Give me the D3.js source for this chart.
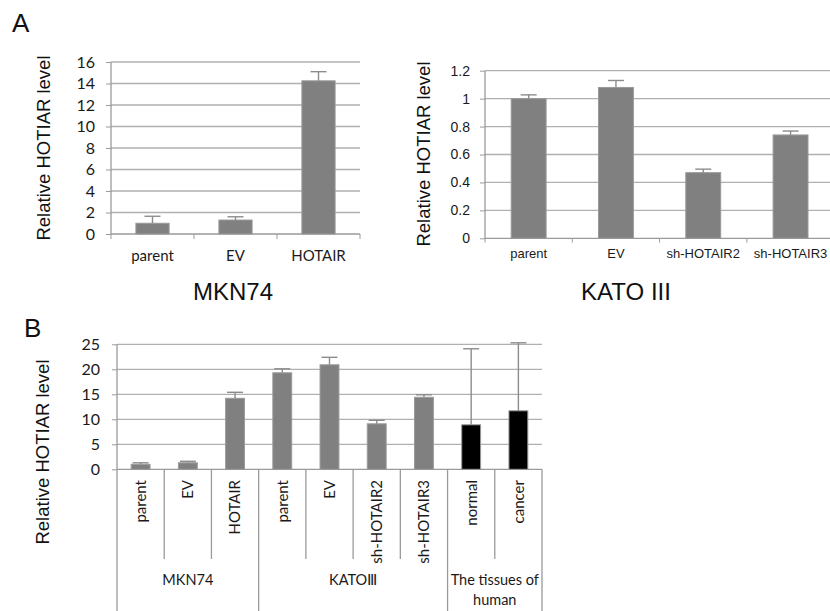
<!DOCTYPE html>
<html><head><meta charset="utf-8">
<script src="https://cdn.jsdelivr.net/npm/d3@7"></script>
<style>body{margin:0;background:#fff}svg{display:block}</style>
</head><body><svg id="c" width="830" height="611"></svg>
<script>
// ---- data ----
const catsA1 = ["parent", "EV", "HOTAIR"];
const valsA1 = [1.0, 1.3, 14.25];
const errA1 = [0.65, 0.3, 0.85];
const ticksA1 = [0, 2, 4, 6, 8, 10, 12, 14, 16];

const catsA2 = ["parent", "EV", "sh-HOTAIR2", "sh-HOTAIR3"];
const valsA2 = [1.0, 1.08, 0.47, 0.74];
const errA2 = [0.027, 0.05, 0.025, 0.028];
const ticksA2 = [0, 0.2, 0.4, 0.6, 0.8, 1, 1.2];

const catsB = ["parent", "EV", "HOTAIR", "parent", "EV", "sh-HOTAIR2", "sh-HOTAIR3", "normal", "cancer"];
const valsB = [1.0, 1.3, 14.2, 19.3, 20.9, 9.1, 14.4, 8.9, 11.7];
const errB = [0.3, 0.3, 1.2, 0.8, 1.5, 0.7, 0.5, 15.2, 13.6];
const ticksB = [0, 5, 10, 15, 20, 25];
const groupNamesB = [["MKN74"], ["KATOⅢ"], ["The tissues of", "human"]];
const groupSizesB = [3, 4, 2];

const yTitle = "Relative HOTIAR level";

// ---- styles ----
const GRID = "#b0b0b0", AXIS = "#9a9a9a", BAR = "#808080", ERR = "#8c8c8c";
const LATO = "Lato, 'Open Sans', sans-serif";
const arial = "'Liberation Sans', Arial, sans-serif";
const svg = d3.select("#c");
svg.append("rect").attr("width", 830).attr("height", 611).attr("fill", "#fff");

function panel(o) {
  const g = svg.append("g");
  const x = d3.scaleBand().domain(o.cats.map((d, i) => i)).range(o.xr).paddingInner(0).paddingOuter(0);
  const y = d3.scaleLinear().domain([0, o.ymax]).range(o.yr);
  g.selectAll(".grid").data(o.ticks.filter(t => t > 0)).join("line")
    .attr("x1", o.xr[0]).attr("x2", o.xr[1])
    .attr("y1", d => y(d)).attr("y2", d => y(d))
    .attr("stroke", GRID).attr("stroke-width", 1.3);
  const ay = g.append("g").attr("transform", `translate(${o.xr[0]},0)`)
    .call(d3.axisLeft(y).tickValues(o.ticks).tickSize(5).tickPadding(o.tickPad).tickFormat(d => d));
  ay.select(".domain").attr("stroke", AXIS).attr("stroke-width", 1.3).attr("d", `M-0,${o.yr[1]}V${o.ybot || o.yr[0]}`);
  ay.selectAll(".tick line").attr("stroke", AXIS);
  ay.selectAll(".tick text").attr("font-family", o.tickFont).attr("font-size", o.tickSize).attr("fill", "#1a1a1a");
  g.append("line").attr("x1", o.xr[0]).attr("x2", o.xr[1]).attr("y1", o.yr[0]).attr("y2", o.yr[0])
    .attr("stroke", AXIS).attr("stroke-width", 1.3);
  const bw = x.bandwidth() * 0.4;
  g.selectAll(".bar").data(o.vals).join("rect")
    .attr("x", (d, i) => x(i) + x.bandwidth() / 2 - bw / 2)
    .attr("width", bw)
    .attr("y", d => y(d)).attr("height", d => y(0) - y(d))
    .attr("fill", (d, i) => o.color ? o.color(i) : BAR)
    .attr("stroke", "#9a9a9a").attr("stroke-width", 1);
  const eg = g.selectAll(".err").data(o.vals).join("g");
  eg.append("line")
    .attr("x1", (d, i) => x(i) + x.bandwidth() / 2).attr("x2", (d, i) => x(i) + x.bandwidth() / 2)
    .attr("y1", d => y(d)).attr("y2", (d, i) => y(d + o.errs[i]))
    .attr("stroke", ERR).attr("stroke-width", 1.4);
  eg.append("line")
    .attr("x1", (d, i) => x(i) + x.bandwidth() / 2 - 8).attr("x2", (d, i) => x(i) + x.bandwidth() / 2 + 8)
    .attr("y1", (d, i) => y(d + o.errs[i])).attr("y2", (d, i) => y(d + o.errs[i]))
    .attr("stroke", ERR).attr("stroke-width", 1.4);
  return { g, x, y };
}

// ---- Panel A1 ----
const p1 = panel({ cats: catsA1, vals: valsA1, errs: errA1, ticks: ticksA1, ymax: 16,
  xr: [111, 360], yr: [234, 62], tickPad: 11, tickFont: LATO, tickSize: 16 });
p1.g.selectAll(".xt").data(d3.range(catsA1.length + 1)).join("line")
  .attr("x1", i => p1.x.range()[0] + i * p1.x.step()).attr("x2", i => p1.x.range()[0] + i * p1.x.step())
  .attr("y1", 234).attr("y2", 239).attr("stroke", AXIS);
p1.g.selectAll(".xl").data(catsA1).join("text")
  .attr("x", (d, i) => p1.x(i) + p1.x.bandwidth() / 2).attr("y", 261)
  .attr("text-anchor", "middle").attr("font-family", LATO).attr("font-size", 15)
  .attr("fill", "#1a1a1a").text(d => d);

// ---- Panel A2 ----
const p2 = panel({ cats: catsA2, vals: valsA2, errs: errA2, ticks: ticksA2, ymax: 1.2,
  xr: [485, 834.2], yr: [238.3, 70.7], tickPad: 10, tickFont: arial, tickSize: 14 });
p2.g.selectAll(".xt").data(d3.range(catsA2.length + 1)).join("line")
  .attr("x1", i => p2.x.range()[0] + i * p2.x.step()).attr("x2", i => p2.x.range()[0] + i * p2.x.step())
  .attr("y1", 238.3).attr("y2", 242.5).attr("stroke", AXIS);
p2.g.selectAll(".xl").data(catsA2).join("text")
  .attr("x", (d, i) => p2.x(i) + p2.x.bandwidth() / 2).attr("y", 258)
  .attr("text-anchor", "middle").attr("font-family", arial).attr("font-size", 13)
  .attr("fill", "#1a1a1a").text(d => d);

// ---- Panel B ----
const groupIdx = [];
groupSizesB.forEach((n, gi) => { for (let k = 0; k < n; k++) groupIdx.push(gi); });
const pB = panel({ cats: catsB, vals: valsB, errs: errB, ticks: ticksB, ymax: 25,
  xr: [117, 542], yr: [469.3, 344.3], ybot: 611, tickPad: 12, tickFont: LATO, tickSize: 16,
  color: i => groupIdx[i] === 2 ? "#000" : BAR });
const starts = [0];
groupSizesB.forEach(n => starts.push(starts[starts.length - 1] + n));
pB.g.selectAll(".sep").data(d3.range(1, catsB.length + 1)).join("line")
  .attr("x1", i => pB.x.range()[0] + i * pB.x.step()).attr("x2", i => pB.x.range()[0] + i * pB.x.step())
  .attr("y1", 469.3).attr("y2", i => starts.includes(i) ? 611 : 559)
  .attr("stroke", AXIS).attr("stroke-width", 1.3);
pB.g.selectAll(".xl").data(catsB).join("text")
  .attr("transform", (d, i) => `translate(${pB.x(i) + pB.x.bandwidth() / 2},480) rotate(-90)`)
  .attr("dy", "0.36em").attr("text-anchor", "end")
  .attr("font-family", LATO).attr("font-size", 15).attr("fill", "#1a1a1a").text(d => d);
groupNamesB.forEach((lines, gi) => {
  const cx = pB.x.range()[0] + (starts[gi] + groupSizesB[gi] / 2) * pB.x.step();
  lines.forEach((t, li) => {
    pB.g.append("text").attr("x", cx).attr("y", 585 + li * 20).attr("text-anchor", "middle")
      .attr("font-family", LATO).attr("font-size", 14.5).attr("fill", "#1a1a1a").text(t);
  });
});

// ---- titles / labels ----
[[43, 148], [423, 154], [42, 452]].forEach(([cx, cy]) => {
  svg.append("text").attr("transform", `translate(${cx},${cy}) rotate(-90)`).attr("dy", "0.36em")
    .attr("text-anchor", "middle").attr("font-family", arial).attr("font-size", 18.5).attr("fill", "#111").text(yTitle);
});
svg.append("text").attr("x", 233).attr("y", 300).attr("text-anchor", "middle").attr("font-family", arial)
  .attr("font-size", 24).attr("fill", "#111").text("MKN74");
svg.append("text").attr("x", 626).attr("y", 300).attr("text-anchor", "middle").attr("font-family", arial)
  .attr("font-size", 24).attr("fill", "#111").text("KATO III");
svg.append("text").attr("x", 12).attr("y", 32).attr("font-family", arial).attr("font-size", 26).attr("fill", "#111").text("A");
svg.append("text").attr("x", 24).attr("y", 337).attr("font-family", arial).attr("font-size", 26).attr("fill", "#111").text("B");
</script></body></html>
